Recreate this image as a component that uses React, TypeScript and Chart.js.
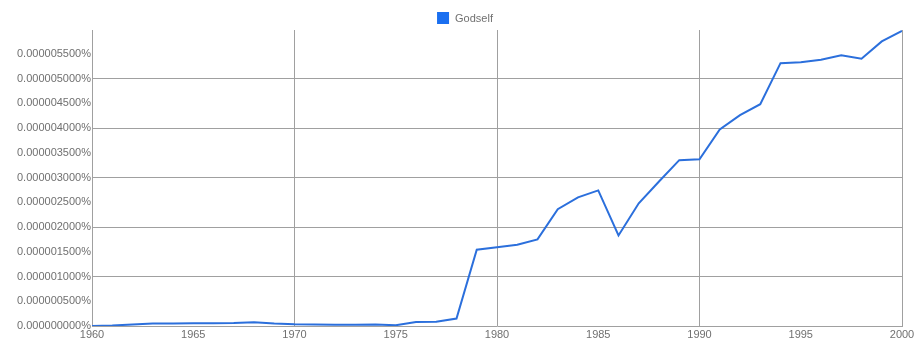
import React, { useEffect, useRef } from "react";
import { Chart, registerables } from "chart.js";

Chart.register(...registerables);

// Years 1960..2000
const years: number[] = [
  1960, 1961, 1962, 1963, 1964, 1965, 1966, 1967, 1968, 1969,
  1970, 1971, 1972, 1973, 1974, 1975, 1976, 1977, 1978, 1979,
  1980, 1981, 1982, 1983, 1984, 1985, 1986, 1987, 1988, 1989,
  1990, 1991, 1992, 1993, 1994, 1995, 1996, 1997, 1998, 1999, 2000,
];

// Frequency of "Godself", in millionths of a percent (1 = 0.000001%)
const godself: number[] = [
  0.0, 0.01, 0.03, 0.05, 0.05, 0.055, 0.055, 0.06, 0.075, 0.05,
  0.035, 0.03, 0.025, 0.025, 0.03, 0.015, 0.08, 0.085, 0.15, 1.54,
  1.59, 1.64, 1.75, 2.36, 2.6, 2.74, 1.83, 2.48, 2.92, 3.35,
  3.37, 3.97, 4.26, 4.48, 5.31, 5.33, 5.38, 5.47, 5.4, 5.75, 5.96,
];

const seriesName = "Godself";
const xTickYears: number[] = [1960, 1965, 1970, 1975, 1980, 1985, 1990, 1995, 2000];

const LINE_COLOR = "#2b6fdc";
const LEGEND_COLOR = "#1a6ff0";
const GRID_COLOR = "#a0a0a0";
const TEXT_COLOR = "#707070";
const FONT = "'Liberation Sans', Arial, sans-serif";

const legendPlugin = {
  id: "customLegend",
  afterDraw(chart: any) {
    const ctx = chart.ctx;
    ctx.save();
    ctx.font = `11px ${FONT}`;
    const textW = ctx.measureText(seriesName).width;
    const box = 12;
    const gap = 6;
    const total = box + gap + textW;
    const cx = 465;
    const x0 = cx - total / 2;
    const y0 = 12;
    ctx.fillStyle = LEGEND_COLOR;
    ctx.fillRect(x0, y0, box, box);
    ctx.fillStyle = TEXT_COLOR;
    ctx.textBaseline = "middle";
    ctx.textAlign = "left";
    ctx.fillText(seriesName, x0 + box + gap, y0 + box / 2 + 0.5);
    ctx.restore();
  },
};

export default function App() {
  const ref = useRef<HTMLCanvasElement | null>(null);

  useEffect(() => {
    if (!ref.current) return;
    const chart = new Chart(ref.current, {
      type: "line",
      data: {
        datasets: [
          {
            label: seriesName,
            data: years.map((y, i) => ({ x: y, y: godself[i] })),
            borderColor: LINE_COLOR,
            backgroundColor: LINE_COLOR,
            borderWidth: 2,
            pointRadius: 0,
            tension: 0,
            fill: false,
          },
        ],
      },
      plugins: [legendPlugin],
      options: {
        animation: false,
        responsive: false,
        maintainAspectRatio: false,
        layout: { padding: { top: 30, left: 0, right: 22, bottom: 0 } },
        plugins: {
          legend: { display: false },
          tooltip: { enabled: false },
        },
        scales: {
          x: {
            type: "linear",
            min: 1960,
            max: 2000,
            afterFit(scale: any) {
              scale.height = 24;
            },
            afterBuildTicks(scale: any) {
              scale.ticks = xTickYears.map((v) => ({ value: v }));
            },
            ticks: {
              color: TEXT_COLOR,
              font: { family: FONT, size: 11 },
              padding: 2,
              maxRotation: 0,
              autoSkip: false,
              callback: (v: any) => String(v),
            },
            grid: {
              drawTicks: false,
              color: (c: any) =>
                c.tick && c.tick.value % 10 === 0 ? GRID_COLOR : "rgba(0,0,0,0)",
            },
            border: { color: GRID_COLOR, width: 1 },
          },
          y: {
            type: "linear",
            min: 0,
            max: 5.98,
            afterFit(scale: any) {
              scale.width = 92;
            },
            ticks: {
              stepSize: 0.5,
              includeBounds: false,
              color: TEXT_COLOR,
              font: { family: FONT, size: 11 },
              padding: 1,
              callback: (v: any) => (Number(v) * 1e-6).toFixed(9) + "%",
            },
            grid: {
              drawTicks: false,
              color: (c: any) =>
                c.tick && Math.round(c.tick.value * 2) % 2 === 0 && c.tick.value > 0
                  ? GRID_COLOR
                  : "rgba(0,0,0,0)",
            },
            border: { color: GRID_COLOR, width: 1 },
          },
        },
      },
    });
    return () => chart.destroy();
  }, []);

  return (
    <div style={{ position: "fixed", left: 0, top: 0, width: 924, height: 350, background: "#fff" }}>
      <canvas ref={ref} width={924} height={350} style={{ display: "block" }} />
    </div>
  );
}
